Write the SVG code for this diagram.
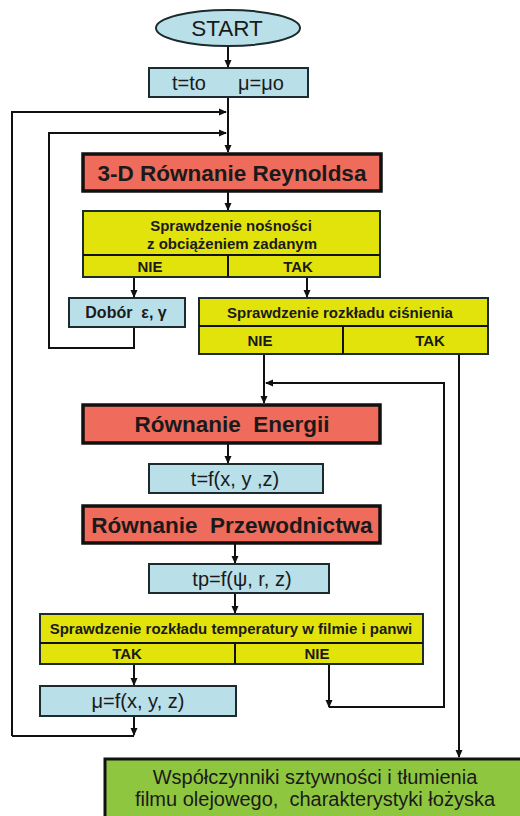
<svg xmlns="http://www.w3.org/2000/svg" width="520" height="816" viewBox="0 0 520 816">
<style>
.blue{fill:#b9dfe9;stroke:#1c2b2e;stroke-width:2}
.red{fill:#ef6b5b;stroke:#111;stroke-width:3.5}
.yel{fill:#e3e30c;stroke:#1c2b2e;stroke-width:2}
.grn{fill:#8fc640;stroke:#111;stroke-width:3}
.ln{fill:none;stroke:#111;stroke-width:2}
text{font-family:"Liberation Sans",Arial,sans-serif;fill:#1a1a1a;text-anchor:middle}
.b{font-weight:bold}
.h{font-size:22.5px;font-weight:bold}
.y{font-size:15px;font-weight:bold}
.f{font-size:20px}
</style>
<defs>
<marker id="ah" markerWidth="8" markerHeight="8" refX="7" refY="4" orient="auto" markerUnits="userSpaceOnUse">
<path d="M0,0.5 L8,4 L0,7.5 Z" fill="#111"/>
</marker>
</defs>
<rect width="520" height="816" fill="#fff"/>
<g id="connectors">
<path class="ln" d="M228,47 V67" marker-end="url(#ah)"/>
<path class="ln" d="M228,97 V152" marker-end="url(#ah)"/>
<path class="ln" d="M12,736 V112 H226" marker-end="url(#ah)"/>
<path class="ln" d="M134,327 V348 H49 V133 H226" marker-end="url(#ah)"/>
<path class="ln" d="M228,192 V210" marker-end="url(#ah)"/>
<path class="ln" d="M134,277 V297" marker-end="url(#ah)"/>
<path class="ln" d="M307,277 V297" marker-end="url(#ah)"/>
<path class="ln" d="M264,354 V403" marker-end="url(#ah)"/>
<path class="ln" d="M459,354 V757" marker-end="url(#ah)"/>
<path class="ln" d="M329,707 H444 V383 H266" marker-end="url(#ah)"/>
<path class="ln" d="M329,664 V707" marker-end="url(#ah)"/>
<path class="ln" d="M228,444 V463" marker-end="url(#ah)"/>
<path class="ln" d="M235,544 V563" marker-end="url(#ah)"/>
<path class="ln" d="M235,593 V613" marker-end="url(#ah)"/>
<path class="ln" d="M134,664 V685" marker-end="url(#ah)"/>
<path class="ln" d="M134,736 H12"/>
<path class="ln" d="M134,716 V735" marker-end="url(#ah)"/>
</g>
<g id="start">
<ellipse class="blue" cx="228" cy="28" rx="72" ry="18"/>
<text x="227" y="36" font-size="22.5">START</text>
</g>
<g id="init">
<rect class="blue" x="149" y="68" width="159" height="29"/>
<text class="f" x="189" y="90">t=to</text>
<text class="f" x="261" y="90">μ=μo</text>
</g>
<g id="reynolds">
<rect class="red" x="83" y="154" width="298" height="37"/>
<text class="h" x="232" y="180.5">3-D Równanie Reynoldsa</text>
</g>
<g id="check1">
<rect class="yel" x="83" y="211" width="297" height="66"/>
<path class="ln" d="M83,255 H380 M228,255 V277"/>
<text class="y" x="231" y="231">Sprawdzenie nośności</text>
<text class="y" x="232" y="249">z obciążeniem zadanym</text>
<text class="y" x="150" y="272">NIE</text>
<text class="y" x="298" y="272">TAK</text>
</g>
<g id="dobor">
<rect class="blue" x="69" y="298" width="116" height="29"/>
<text class="b" x="126" y="318" font-size="16" xml:space="preserve">Dobór  ε, γ</text>
</g>
<g id="check2">
<rect class="yel" x="199" y="298" width="289" height="56"/>
<path class="ln" d="M199,326 H488 M343,326 V354"/>
<text class="y" x="340" y="318">Sprawdzenie rozkładu ciśnienia</text>
<text class="y" x="260" y="346">NIE</text>
<text class="y" x="430" y="346">TAK</text>
</g>
<g id="energy">
<rect class="red" x="83" y="405" width="297" height="38"/>
<text class="h" x="232" y="432" xml:space="preserve">Równanie  Energii</text>
</g>
<g id="tf">
<rect class="blue" x="149" y="464" width="174" height="29"/>
<text class="f" x="235" y="486">t=f(x, y ,z)</text>
</g>
<g id="przew">
<rect class="red" x="83" y="506" width="297" height="37"/>
<text class="h" x="232" y="532.5" xml:space="preserve">Równanie  Przewodnictwa</text>
</g>
<g id="tp">
<rect class="blue" x="149" y="564" width="180" height="29"/>
<text class="f" x="242" y="586">tp=f(ψ, r, z)</text>
</g>
<g id="check3">
<rect class="yel" x="40" y="614" width="383" height="50"/>
<path class="ln" d="M40,643 H423 M235,643 V664"/>
<text class="y" x="231" y="634">Sprawdzenie rozkładu temperatury w filmie i panwi</text>
<text class="y" x="127" y="659">TAK</text>
<text class="y" x="317" y="659">NIE</text>
</g>
<g id="mu">
<rect class="blue" x="40" y="686" width="196" height="30"/>
<text class="f" x="138" y="708">μ=f(x, y, z)</text>
</g>
<g id="result">
<rect class="grn" x="105" y="759" width="420" height="60"/>
<text class="f" x="315" y="784">Współczynniki sztywności i tłumienia</text>
<text class="f" x="315" y="806" xml:space="preserve">filmu olejowego,  charakterystyki łożyska</text>
</g>
</svg>
